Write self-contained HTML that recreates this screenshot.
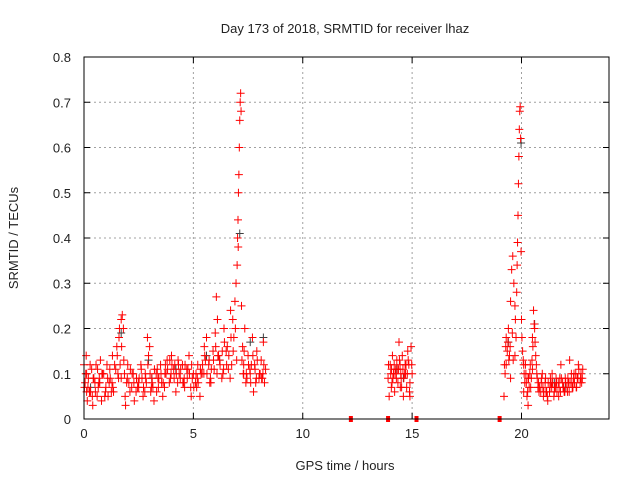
<!DOCTYPE html>
<html><head><meta charset="utf-8"><style>
body{margin:0;background:#fff;}
svg text{font-family:"Liberation Sans",sans-serif;font-size:13px;fill:#222;}
</style></head><body>
<svg id="chart" width="640" height="480" xmlns="http://www.w3.org/2000/svg">
<text x="345" y="33" text-anchor="middle">Day 173 of 2018, SRMTID for receiver lhaz</text>
<text x="345" y="470" text-anchor="middle">GPS time / hours</text>
<text transform="translate(18,238) rotate(-90)" text-anchor="middle">SRMTID / TECUs</text>
<g id="grid"></g><g id="ticks"></g><g id="marks"></g>
<rect x="84" y="57" width="525" height="362" fill="none" stroke="#000" stroke-width="1"/>
</svg>
<script>
const xTicks=[0,5,10,15,20];
const yTicks=[0,0.1,0.2,0.3,0.4,0.5,0.6,0.7,0.8];
const yTickLabels=["0","0.1","0.2","0.3","0.4","0.5","0.6","0.7","0.8"];
const redTimes=[0,0.05,0.1,0.15,0.2,0.3,0.35,0.4,0.5,0.55,0.6,0.7,0.75,0.8,0.9,1.0,1.05,1.1,1.2,1.3,1.35,1.45,1.5,1.6,1.65,1.7,1.75,1.8,1.85,1.9,1.95,2.0,2.1,2.2,2.3,2.4,2.5,2.6,2.7,2.8,2.9,2.95,3.0,3.05,3.1,3.2,3.3,3.4,3.5,3.6,3.7,3.8,3.9,4.0,4.1,4.2,4.3,4.4,4.5,4.6,4.7,4.8,4.9,5.0,5.1,5.2,5.3,5.4,5.5,5.6,5.7,5.8,5.9,6.0,6.05,6.1,6.2,6.3,6.4,6.5,6.6,6.7,6.8,6.85,6.9,6.95,7.0,7.02,7.04,7.06,7.08,7.1,7.12,7.14,7.16,7.18,7.05,7.2,7.25,7.3,7.35,7.4,7.5,7.6,7.7,7.75,7.8,7.9,8.0,8.1,8.2,8.25,8.3,
0.02,0.12,0.25,0.45,0.65,0.85,1.15,1.25,1.55,1.7,2.05,2.25,2.45,2.65,2.85,3.15,3.35,3.55,3.75,3.95,4.15,4.35,4.55,4.75,4.95,5.15,5.35,5.55,5.75,5.95,6.15,6.35,6.55,6.75,7.3,7.45,7.65,7.85,8.05,8.15,
13.9,13.95,14.0,14.05,14.1,14.15,14.2,14.25,14.3,14.35,14.4,14.45,14.5,14.55,14.6,14.7,14.75,14.8,14.85,14.9,14.95,15.0,14.12,14.32,14.52,14.72,14.9,
19.2,19.25,19.3,19.35,19.4,19.45,19.5,19.55,19.6,19.65,19.7,19.72,19.75,19.78,19.8,19.82,19.84,19.86,19.88,19.9,19.92,19.94,19.96,19.98,20.0,20.05,20.1,20.15,20.2,20.25,20.3,20.35,20.4,20.45,20.5,20.55,20.6,20.65,20.7,20.8,20.9,21.0,21.1,21.2,21.3,21.4,21.5,21.6,21.7,21.8,21.9,22.0,22.1,22.2,22.3,22.4,22.5,22.6,22.7,22.8,
19.3,19.5,19.7,20.1,20.3,20.5,20.75,20.95,21.15,21.35,21.55,21.75,21.95,22.15,22.35,22.55,22.75];
const redValues=[0.12,0.08,0.14,0.04,0.09,0.06,0.11,0.03,0.08,0.12,0.05,0.09,0.13,0.04,0.10,0.07,0.12,0.05,0.09,0.14,0.06,0.11,0.16,0.18,0.12,0.22,0.23,0.20,0.10,0.03,0.08,0.12,0.06,0.10,0.04,0.09,0.07,0.12,0.05,0.10,0.18,0.14,0.16,0.06,0.09,0.04,0.10,0.07,0.12,0.05,0.10,0.13,0.08,0.14,0.11,0.06,0.13,0.09,0.12,0.07,0.11,0.14,0.05,0.10,0.08,0.12,0.05,0.10,0.16,0.18,0.12,0.08,0.15,0.19,0.27,0.22,0.13,0.09,0.20,0.15,0.11,0.24,0.22,0.18,0.26,0.30,0.34,0.40,0.44,0.50,0.54,0.60,0.66,0.70,0.72,0.68,0.38,0.25,0.16,0.12,0.20,0.08,0.14,0.10,0.18,0.06,0.12,0.15,0.09,0.13,0.17,0.08,0.11,
0.07,0.10,0.06,0.09,0.07,0.10,0.08,0.06,0.10,0.09,0.08,0.10,0.07,0.09,0.08,0.07,0.11,0.08,0.10,0.09,0.12,0.10,0.08,0.11,0.09,0.07,0.10,0.13,0.08,0.11,0.14,0.10,0.16,0.12,0.10,0.09,0.12,0.08,0.10,0.09,
0.09,0.05,0.12,0.07,0.14,0.10,0.06,0.11,0.13,0.08,0.17,0.12,0.09,0.14,0.05,0.10,0.07,0.15,0.12,0.08,0.16,0.10,0.09,0.11,0.07,0.12,0.05,
0.05,0.10,0.18,0.15,0.20,0.14,0.26,0.33,0.36,0.30,0.25,0.22,0.18,0.28,0.34,0.39,0.45,0.52,0.58,0.64,0.68,0.69,0.62,0.37,0.22,0.15,0.12,0.08,0.10,0.05,0.03,0.07,0.12,0.09,0.18,0.24,0.20,0.14,0.10,0.06,0.08,0.05,0.09,0.04,0.07,0.10,0.06,0.08,0.05,0.12,0.07,0.09,0.06,0.13,0.08,0.10,0.07,0.12,0.09,0.11,
0.12,0.09,0.14,0.06,0.09,0.11,0.07,0.10,0.06,0.08,0.07,0.09,0.06,0.08,0.07,0.09,0.08];
const fillTimes=[0.08,0.18,0.28,0.42,0.52,0.62,0.72,0.82,0.95,1.08,1.18,1.28,1.4,1.52,1.62,1.72,1.82,1.98,2.12,2.28,2.38,2.52,2.62,2.72,2.82,2.92,3.02,3.12,3.22,3.32,3.42,3.52,3.62,3.72,3.82,3.92,4.02,4.12,4.22,4.32,4.42,4.52,4.62,4.72,4.82,4.92,5.02,5.12,5.22,5.32,5.42,5.52,5.62,5.72,5.82,5.92,6.02,6.12,6.22,6.32,6.42,6.52,6.62,6.72,6.82,6.92,7.22,7.32,7.42,7.52,7.62,7.72,7.82,7.92,8.02,8.12,8.22,
0.12,0.38,0.68,0.98,1.32,1.58,1.88,2.18,2.48,2.78,3.08,3.38,3.68,3.98,4.28,4.58,4.88,5.18,5.48,5.78,6.08,6.38,6.68,6.98,7.28,7.58,7.88,8.18,
13.92,14.02,14.08,14.18,14.22,14.28,14.38,14.42,14.48,14.58,14.62,14.68,14.78,14.82,14.88,14.98,14.06,14.46,14.66,
19.22,19.28,19.38,19.42,19.48,19.58,19.62,20.02,20.08,20.12,20.18,20.22,20.28,20.32,20.38,20.42,20.48,20.52,20.58,20.62,20.68,20.72,20.78,20.82,20.88,20.92,20.98,21.02,21.08,21.12,21.18,21.22,21.28,21.32,21.38,21.42,21.48,21.52,21.58,21.62,21.68,21.72,21.78,21.82,21.88,21.92,21.98,22.02,22.08,22.12,22.18,22.22,22.28,22.32,22.38,22.42,22.48,22.52,22.58,22.62,22.68,22.72,22.78];
const fillValues=[0.10,0.07,0.12,0.09,0.06,0.11,0.08,0.10,0.05,0.09,0.11,0.08,0.12,0.14,0.20,0.16,0.13,0.09,0.11,0.08,0.06,0.09,0.11,0.07,0.09,0.12,0.10,0.08,0.11,0.06,0.09,0.10,0.08,0.12,0.11,0.13,0.12,0.09,0.10,0.12,0.11,0.08,0.12,0.09,0.10,0.12,0.07,0.10,0.08,0.11,0.12,0.14,0.10,0.13,0.11,0.13,0.16,0.14,0.12,0.15,0.17,0.12,0.14,0.18,0.15,0.20,0.13,0.15,0.10,0.12,0.08,0.14,0.11,0.13,0.10,0.09,0.12,
0.06,0.05,0.08,0.06,0.07,0.09,0.05,0.07,0.08,0.06,0.07,0.09,0.07,0.10,0.08,0.09,0.07,0.09,0.10,0.09,0.10,0.11,0.09,0.13,0.10,0.11,0.09,0.10,
0.12,0.10,0.08,0.12,0.10,0.09,0.11,0.13,0.10,0.11,0.09,0.12,0.10,0.13,0.06,0.12,0.11,0.07,0.10,
0.12,0.16,0.17,0.13,0.16,0.19,0.13,0.18,0.13,0.10,0.12,0.08,0.06,0.09,0.10,0.07,0.13,0.16,0.21,0.17,0.12,0.09,0.08,0.07,0.06,0.09,0.07,0.06,0.08,0.06,0.05,0.08,0.06,0.09,0.07,0.08,0.05,0.07,0.09,0.06,0.08,0.07,0.06,0.09,0.08,0.07,0.06,0.08,0.07,0.09,0.06,0.08,0.10,0.07,0.09,0.08,0.10,0.07,0.09,0.11,0.08,0.10,0.09];
const grayTimes=[0.3,1.7,2.95,4.2,5.6,7.12,7.6,14.3,19.4,19.98,20.6,21.5,22.4,3.1,6.2,8.2,14.6,22.0];
const grayValues=[0.07,0.19,0.13,0.11,0.14,0.41,0.17,0.11,0.17,0.61,0.21,0.08,0.10,0.09,0.13,0.18,0.09,0.07];
const gapTimes=[12.2,13.9,15.2,19.0];
const gapValues=[0,0,0,0];
const NS="http://www.w3.org/2000/svg";
const X0=84,X1=609,Y0=419,Y1=57,XMAX=24,YMAX=0.8;
function sx(v){return X0+(X1-X0)*v/XMAX;}
function sy(v){return Y0-(Y0-Y1)*v/YMAX;}
function mk(tag,attrs,parent){const e=document.createElementNS(NS,tag);for(const k in attrs)e.setAttribute(k,attrs[k]);parent.appendChild(e);return e;}
const grid=document.getElementById('grid'),ticks=document.getElementById('ticks'),marks=document.getElementById('marks');
xTicks.forEach(t=>{const x=sx(t);
 if(t>0){const g=mk('line',{x1:x,x2:x,y1:Y1,y2:Y0,stroke:'#a0a0a0','stroke-dasharray':'2,3'},grid);
 
 }
 mk('line',{x1:x,x2:x,y1:Y0,y2:Y0-6,stroke:'#000'},ticks);
 mk('line',{x1:x,x2:x,y1:Y1,y2:Y1+6,stroke:'#000'},ticks);
 const tx=mk('text',{x:x,y:Y0+19,'text-anchor':'middle'},ticks);tx.textContent=t;
 
 });
yTicks.forEach((t,i)=>{const y=sy(t);
 if(t>0&&t<0.8){const g=mk('line',{x1:X0,x2:X1,y1:y,y2:y,stroke:'#a0a0a0','stroke-dasharray':'2,3'},grid);
 
 }
 mk('line',{x1:X0,x2:X0+6,y1:y,y2:y,stroke:'#000'},ticks);
 mk('line',{x1:X1,x2:X1-6,y1:y,y2:y,stroke:'#000'},ticks);
 const tx=mk('text',{x:71,y:y+5,'text-anchor':'end'},ticks);tx.textContent=yTickLabels[i];
 
 });
function plus(t,v,col,name){const x=sx(t),y=sy(v);
 const p=mk('path',{d:`M${x-4},${y}H${x+4}M${x},${y-4}V${y+4}`,stroke:col,'stroke-width':1,fill:'none'},marks);
 
 }
grayTimes.forEach((t,i)=>plus(t,grayValues[i],'#404040','gray-point'));
redTimes.forEach((t,i)=>plus(t,redValues[i],'#ff0000','red-point'));
fillTimes.forEach((t,i)=>plus(t,fillValues[i],'#ff0000','red-point'));
gapTimes.forEach((t,i)=>{const r=mk('rect',{x:sx(t)-2,y:sy(gapValues[i])-3,width:4,height:6,fill:'#ff0000'},marks);
 
 });
</script>
</body></html>
